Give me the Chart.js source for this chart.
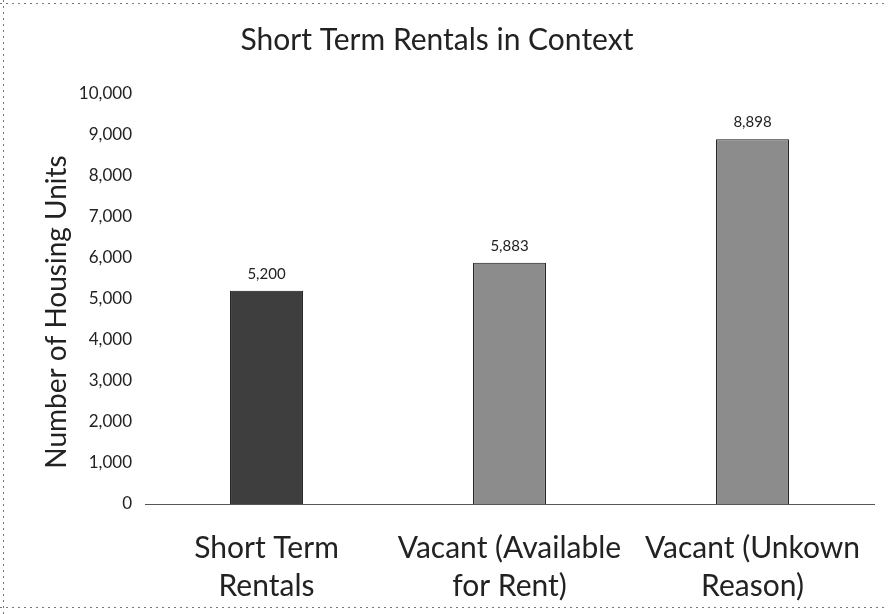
<!DOCTYPE html>
<html>
<head>
<meta charset="utf-8">
<script src="https://cdn.jsdelivr.net/npm/chart.js@4"></script>
<style>
  html, body { margin: 0; padding: 0; background: #fff; }
  #wrap { width: 888px; height: 614px; }
</style>
</head>
<body>
<div id="wrap"><canvas id="rentalChart" width="888" height="614"></canvas></div>
<script>
// data
const categories = [
    ['Short Term', 'Rentals'],
    ['Vacant (Available', 'for Rent)'],
    ['Vacant (Unkown', 'Reason)']
];
const housingUnits = [5200, 5883, 8898];
const yTicks = [0, 1000, 2000, 3000, 4000, 5000, 6000, 7000, 8000, 9000, 10000];

const barColors = ['#3e3e3e', '#8c8c8c', '#8c8c8c'];
const FONT = 'Lato, "Open Sans", sans-serif';

// value labels above bars, y title and the scanned-page frame
const extras = {
    id: 'extras',
    beforeDraw(chart) {
        const c = chart.ctx;
        c.save();
        c.fillStyle = '#fff';
        c.fillRect(0, 0, chart.width, chart.height);
        c.strokeStyle = '#777';
        c.lineWidth = 1;
        c.setLineDash([2, 4]);
        c.beginPath();
        c.moveTo(3.5, 0); c.lineTo(3.5, chart.height);
        c.moveTo(0, 3.5); c.lineTo(chart.width, 3.5);
        c.moveTo(0, 607.5); c.lineTo(chart.width, 607.5);
        c.stroke();
        c.restore();
    },
    afterDatasetsDraw(chart) {
        const c = chart.ctx;
        const meta = chart.getDatasetMeta(0);
        c.save();
        c.fillStyle = '#222';
        c.font = '15px ' + FONT;
        c.textAlign = 'center';
        c.textBaseline = 'middle';
        meta.data.forEach(function (bar, i) {
            c.fillText(housingUnits[i].toLocaleString('en-US'), bar.x, bar.y - 17);
        });
        // axis title
        c.translate(57, 312);
        c.rotate(-Math.PI / 2);
        c.font = '28px ' + FONT;
        c.textBaseline = 'middle';
        c.fillStyle = '#222';
        c.fillText('Number of Housing Units', 0, 0);
        c.restore();
    }
};

const ctx = document.getElementById('rentalChart').getContext('2d');
const rentalChart = new Chart(ctx, {
    type: 'bar',
    data: {
        labels: categories,
        datasets: [{
            data: housingUnits,
            backgroundColor: barColors,
            borderColor: '#111',
            borderWidth: 1,
            barPercentage: 0.3,
            categoryPercentage: 1.0
        }]
    },
    options: {
        responsive: false,
        animation: false,
        layout: { padding: { left: 0, right: 14, top: 0, bottom: 0 } },
        plugins: {
            legend: { display: false },
            tooltip: { enabled: false },
            title: {
                display: true,
                text: 'Short Term Rentals in Context',
                color: '#222',
                font: { family: FONT, size: 30, weight: 'normal' },
                padding: { top: 22, bottom: 36 }
            }
        },
        scales: {
            x: {
                grid: { display: false },
                border: { display: true, color: '#555', dash: [4, 4] },
                ticks: {
                    color: '#222',
                    font: { family: FONT, size: 30, lineHeight: 1.27 },
                    padding: 17,
                    maxRotation: 0,
                    autoSkip: false
                },
                afterFit(scale) { scale.height = 110; }
            },
            y: {
                min: 0,
                max: 10000,
                afterBuildTicks(scale) {
                    scale.ticks = yTicks.map(v => ({ value: v }));
                },
                grid: { display: false },
                border: { display: false },
                ticks: {
                    color: '#222',
                    font: { family: FONT, size: 17 },
                    padding: 5,
                    callback: v => v.toLocaleString('en-US')
                },
                afterFit(scale) { scale.width = 145; }
            }
        }
    },
    plugins: [extras]
});
</script>
</body>
</html>
